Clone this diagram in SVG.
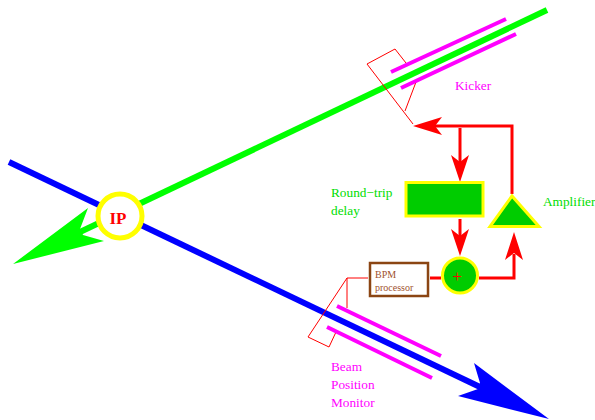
<svg xmlns="http://www.w3.org/2000/svg" width="595" height="420" viewBox="0 0 595 420">
<style>
text{font-family:"Liberation Serif","Times New Roman",serif}
.lbl{font-size:13.3px}
.mg{fill:#ff00ff}
.gr{fill:#00dd00}
.mgl{stroke:#ff00ff;stroke-width:4;fill:none}
.thin{stroke:#ff0000;stroke-width:1;fill:none}
.thick{stroke:#ff0000;stroke-width:3;fill:none}
.head{fill:#ff0000}
</style>
<rect width="595" height="420" fill="#ffffff"/>
<g id="connectors">
<line x1="547" y1="10" x2="80" y2="232" stroke="#00ff00" stroke-width="6"/>
<polygon points="13,264 88,208 80,229 83,235 104,241" fill="#00ff00"/>
<line x1="9" y1="162" x2="480" y2="387" stroke="#0000ff" stroke-width="6"/>
<polygon points="549,419 474,363 480,383 478,389 458,396" fill="#0000ff"/>
<path class="thin" d="M406,63 L395,49 L367,64 L413,124 M416,82 L405,111"/>
<path class="thin" d="M368,278 H347 L308,337 L329,347 L336,332 M347,278 V308"/>
<path class="thick" d="M435,126 H512 V194"/>
<polygon class="head" points="413,126 442,117 435,126 442,135"/>
<path class="thick" d="M460,128 V163"/>
<polygon class="head" points="460,182 451,155 460,162 469,155"/>
<path class="thick" d="M460,219 V237"/>
<polygon class="head" points="460,256 451,229 460,236 469,229"/>
<path class="thick" d="M479,278 H514 V254"/>
<polygon class="head" points="514,232 505,260 514,253 523,260"/>
<path class="thick" d="M430,278 H441"/>
</g>
<g id="kicker">
<line class="mgl" x1="391" y1="72" x2="506" y2="19"/>
<line class="mgl" x1="401" y1="88" x2="516" y2="34"/>
<text class="lbl mg" x="455" y="90">Kicker</text>
</g>
<g id="bpm">
<line class="mgl" x1="337" y1="306" x2="441" y2="356"/>
<line class="mgl" x1="327" y1="327" x2="432" y2="378"/>
<text class="lbl mg" x="331" y="371">Beam</text>
<text class="lbl mg" x="331" y="389">Position</text>
<text class="lbl mg" x="331" y="407">Monitor</text>
</g>
<g id="ip">
<circle cx="120" cy="216" r="22" fill="#ffffff" stroke="#ffff00" stroke-width="5"/>
<text x="118" y="224" text-anchor="middle" font-size="17" font-weight="bold" fill="#ff0000">IP</text>
</g>
<g id="delay">
<rect x="406" y="182.500" width="77" height="33.500" fill="#00cc00" stroke="#ffff00" stroke-width="3"/>
<text class="lbl gr" x="331" y="197">Round−trip</text>
<text class="lbl gr" x="331" y="215">delay</text>
</g>
<g id="amplifier">
<polygon points="512,196 490,226.500 539,226.500" fill="#00cc00" stroke="#ffff00" stroke-width="3"/>
<text class="lbl gr" x="543" y="206">Amplifier</text>
</g>
<g id="processor">
<rect x="370" y="263" width="58" height="33" fill="#ffffff" stroke="#8b4513" stroke-width="2.5"/>
<text x="375" y="278" font-size="10" fill="#a0522d">BPM</text>
<text x="375" y="291" font-size="10" fill="#a0522d">processor</text>
</g>
<g id="summer">
<circle cx="460" cy="275.500" r="17.500" fill="#00cc00" stroke="#ffff00" stroke-width="3"/>
<text x="457" y="282" text-anchor="middle" font-size="17" fill="#ff0000">+</text>
</g>
</svg>
